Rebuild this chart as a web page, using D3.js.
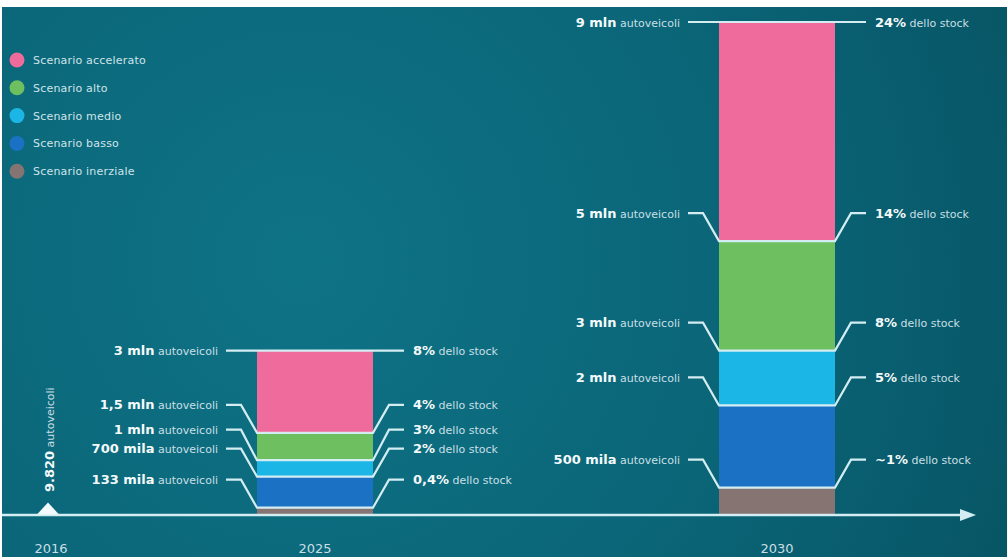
<!DOCTYPE html>
<html>
<head>
<meta charset="utf-8">
<script src="https://cdn.jsdelivr.net/npm/d3@7"></script>
<style>
  body { margin: 0; background: #fff; }
  svg { display: block; }
  text { font-family: "DejaVu Sans", sans-serif; }
</style>
</head>
<body>
<div id="chart"></div>
<script>
// scenari (dall'alto al basso della pila)
var scenarios = ["Scenario accelerato", "Scenario alto", "Scenario medio", "Scenario basso", "Scenario inerziale"];
var years = [2016, 2025, 2030];

// autoveicoli elettrici, valore in cima a ogni scenario
var vehicles2016 = 9820;
var vehicles2025 = [3000000, 1500000, 1000000, 700000, 133000];
var vehicles2030 = [9000000, 5000000, 3000000, 2000000, 500000];

// quota dello stock
var stock2025 = ["8%", "4%", "3%", "2%", "0,4%"];
var stock2030 = ["24%", "14%", "8%", "5%", "~1%"];

var colors = ["#ef6b9b", "#6dbf5f", "#1bb6e6", "#1b72c4", "#857472"];
var lineColor = "#d3edf2";

var width = 1008, height = 557;
var baseY = 515;

var svg = d3.select("#chart")
  .append("svg")
  .attr("width", width)
  .attr("height", height);

// sfondo
var grad = svg.append("defs").append("radialGradient")
  .attr("id", "bg")
  .attr("gradientUnits", "userSpaceOnUse")
  .attr("cx", 300).attr("cy", 260).attr("r", 900);
grad.append("stop").attr("offset", 0).attr("stop-color", "#0f7386");
grad.append("stop").attr("offset", 0.5).attr("stop-color", "#0a6577");
grad.append("stop").attr("offset", 1).attr("stop-color", "#064f5e");

svg.append("rect")
  .attr("x", 2).attr("y", 7)
  .attr("width", width - 3).attr("height", height - 7)
  .attr("fill", "url(#bg)");

// scale
var x = d3.scaleLinear()
  .domain(years)
  .range([48, 315, 777]);

var y = d3.scaleLinear()
  .domain([0, 9000000])
  .range([baseY, 22]);

function fmtVehicles(v) {
  if (v >= 1000000) return String(v / 1000000).replace(".", ",") + " mln";
  return (v / 1000) + " mila";
}

// legenda
var legend = svg.append("g");
scenarios.forEach(function (s, i) {
  legend.append("circle")
    .attr("cx", 17).attr("cy", 60 + i * 27.8).attr("r", 7.5)
    .style("fill", colors[i]);
  legend.append("text")
    .attr("x", 33).attr("y", 60 + i * 27.8 + 4)
    .text(s)
    .style("font-size", "11px")
    .style("letter-spacing", "0.2px")
    .style("fill", "#cfe4ea");
});

// barre
var halfW = 58;
function drawBar(year, values, stock) {
  var cx = x(year), L = cx - halfW, R = cx + halfW;
  var g = svg.append("g");

  g.selectAll("rect")
    .data(values)
    .enter()
    .append("rect")
    .attr("x", L)
    .attr("width", R - L)
    .attr("y", function (d) { return y(d); })
    .attr("height", function (d, i) {
      var bottom = i < values.length - 1 ? y(values[i + 1]) : baseY;
      return bottom - y(d);
    })
    .style("fill", function (d, i) { return colors[i]; });

  // posizioni delle etichette, evitando sovrapposizioni
  var ly = values.map(function (d, i) { return i == 0 ? y(d) : y(d) - 28; });
  for (var i = values.length - 2; i >= 1; i--) {
    ly[i] = Math.min(ly[i], ly[i + 1] - 19);
  }

  values.forEach(function (d, i) {
    var by = y(d);
    var path = i == 0
      ? "M" + (L - 31) + "," + by + "H" + (R + 31)
      : "M" + (L - 31) + "," + ly[i] + "H" + (L - 16) + "L" + L + "," + by +
        "H" + R + "L" + (R + 16) + "," + ly[i] + "H" + (R + 31);
    g.append("path")
      .attr("d", path)
      .attr("fill", "none")
      .attr("stroke", lineColor)
      .attr("stroke-width", 2.2);

    var left = g.append("text")
      .attr("x", L - 39).attr("y", ly[i] + 4.5)
      .attr("text-anchor", "end");
    left.append("tspan").text(fmtVehicles(d))
      .style("font-weight", "bold").style("font-size", "13px").style("fill", "#f4fafb");
    left.append("tspan").text(" autoveicoli")
      .style("font-size", "11px").style("fill", "#c9dfe5");

    var right = g.append("text")
      .attr("x", R + 40).attr("y", ly[i] + 4.5);
    right.append("tspan").text(stock[i])
      .style("font-weight", "bold").style("font-size", "13px").style("fill", "#f4fafb");
    right.append("tspan").text(" dello stock")
      .style("font-size", "11px").style("fill", "#c9dfe5");
  });
}

drawBar(2025, vehicles2025, stock2025);
drawBar(2030, vehicles2030, stock2030);

// asse temporale
svg.append("line")
  .attr("x1", 2).attr("x2", 962)
  .attr("y1", baseY).attr("y2", baseY)
  .attr("stroke", lineColor)
  .attr("stroke-width", 2.5);
svg.append("path")
  .attr("d", "M960," + (baseY - 6) + "L976," + baseY + "L960," + (baseY + 6) + "Z")
  .attr("fill", lineColor);

svg.selectAll(".year")
  .data(years)
  .enter()
  .append("text")
  .attr("class", "year")
  .attr("x", function (d) { return x(d) + (d == 2016 ? 3 : 0); })
  .attr("y", 553)
  .attr("text-anchor", "middle")
  .text(function (d) { return d; })
  .style("font-size", "13px")
  .style("fill", "#c9dfe5");

// 2016
var x16 = x(2016), y16 = y(vehicles2016);
svg.append("path")
  .attr("d", "M" + (x16 - 11) + "," + y16 + "L" + x16 + "," + (y16 - 12) + "L" + (x16 + 11) + "," + y16 + "Z")
  .attr("fill", "#f2fafb");

var t16 = svg.append("text")
  .attr("transform", "translate(" + (x16 + 6) + "," + 492 + ") rotate(-90)");
t16.append("tspan").text(d3.format(",")(vehicles2016).replace(",", "."))
  .style("font-weight", "bold").style("font-size", "13px").style("fill", "#f4fafb");
t16.append("tspan").text(" autoveicoli")
  .style("font-size", "11px").style("fill", "#c9dfe5");
</script>
</body>
</html>
